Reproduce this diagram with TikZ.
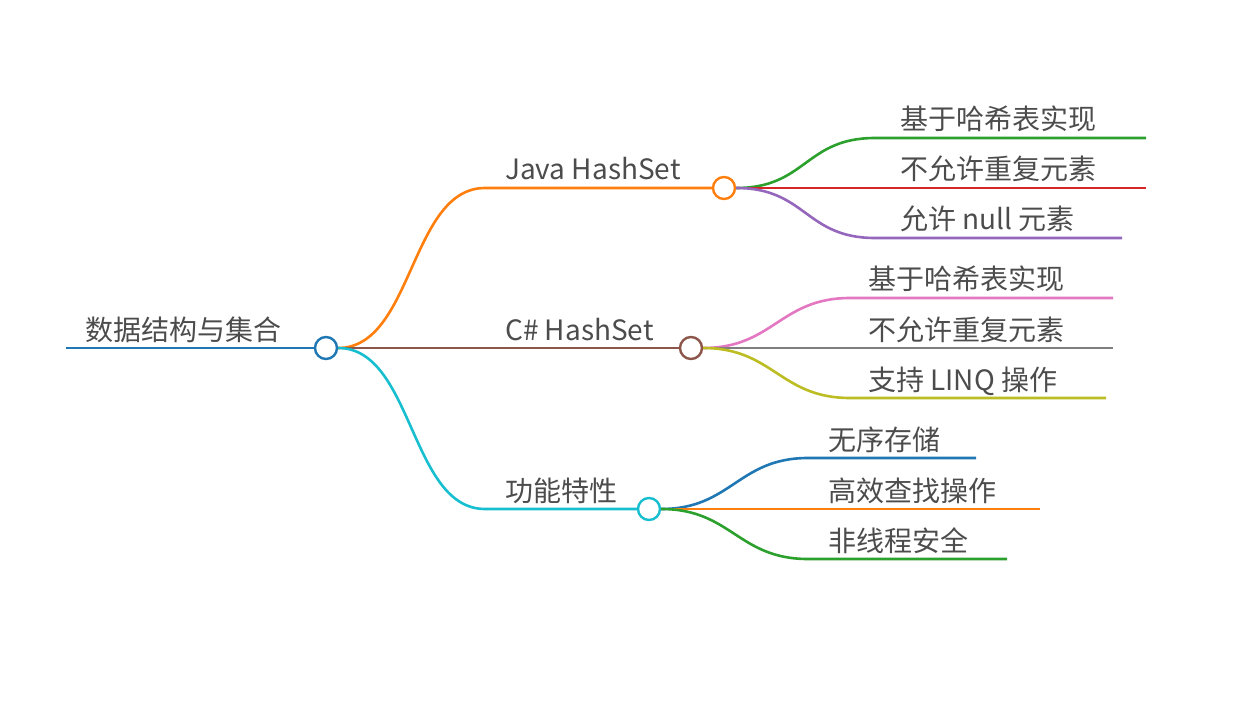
\documentclass[tikz,border=0pt]{standalone}
\usepackage{fontspec}
\setmainfont{Noto Sans CJK SC}
\begin{document}
\begin{tikzpicture}[x=1pt,y=-1pt,
  lbl/.style={anchor=base west,inner sep=0pt,text=black!70,font=\fontsize{28}{30}\selectfont},
  ln/.style={line width=2.6pt},
  dot/.style={circle,draw,fill=white,line width=2.4pt,minimum size=22pt,inner sep=0pt}]
\definecolor{cO}{HTML}{FF7F0E}\definecolor{cB}{HTML}{8C564B}\definecolor{cC}{HTML}{17BECF}
\definecolor{cG}{HTML}{2CA02C}\definecolor{cR}{HTML}{D62728}\definecolor{cP}{HTML}{9467BD}
\definecolor{cK}{HTML}{E377C2}\definecolor{cY}{HTML}{7F7F7F}\definecolor{cL}{HTML}{BCBD22}
\definecolor{cU}{HTML}{1F77B4}
\useasboundingbox (0,0) rectangle (1236,703);
% root
\coordinate (r0) at (66,348);
\node[dot,draw=cU] (r) at (326,348) {};
\draw[ln,cU] (r0) -- (r.west);
\node[lbl] (rt) at (85,340) {数据结构与集合};
% level 1
\coordinate (j0) at (485,188); \node[dot,draw=cO] (j) at (724,188) {};
\coordinate (c0) at (485,348); \node[dot,draw=cB] (c) at (691,348) {};
\coordinate (f0) at (485,509); \node[dot,draw=cC] (f) at (649,509) {};
\draw[ln,cO] (r.east) .. controls +(75,0) and +(-75,0) .. (j0) -- (j.west);
\draw[ln,cB] (r.east) -- (c.west);
\draw[ln,cC] (r.east) .. controls +(75,0) and +(-75,0) .. (f0) -- (f.west);
\node[lbl] (jt) at (505,180) {Java HashSet};
\node[lbl] (ct) at (505,340) {C\# HashSet};
\node[lbl] (ft) at (505,501) {功能特性};
% Java children
\coordinate (j1a) at (875,138); \coordinate (j1b) at (1146,138);
\coordinate (j2b) at (1146,188);
\coordinate (j3a) at (875,238); \coordinate (j3b) at (1122,238);
\draw[ln,cG] (j.east) .. controls +(70,0) and +(-70,0) .. (j1a) -- (j1b);
\draw[ln,cR] (j.east) -- (j2b);
\draw[ln,cP] (j.east) .. controls +(70,0) and +(-70,0) .. (j3a) -- (j3b);
\node[lbl] at (900,130) {基于哈希表实现};
\node[lbl] at (900,180) {不允许重复元素};
\node[lbl] at (900,230) {允许 null 元素};
% C# children
\coordinate (c1a) at (850,298); \coordinate (c1b) at (1113,298);
\coordinate (c2b) at (1113,348);
\coordinate (c3a) at (850,398); \coordinate (c3b) at (1106,398);
\draw[ln,cK] (c.east) .. controls +(70,0) and +(-70,0) .. (c1a) -- (c1b);
\draw[ln,cY] (c.east) -- (c2b);
\draw[ln,cL] (c.east) .. controls +(70,0) and +(-70,0) .. (c3a) -- (c3b);
\node[lbl] at (868,290) {基于哈希表实现};
\node[lbl] at (868,340) {不允许重复元素};
\node[lbl] at (868,390) {支持 LINQ 操作};
% feature children
\coordinate (f1a) at (808,458); \coordinate (f1b) at (976,458);
\coordinate (f2b) at (1040,509);
\coordinate (f3a) at (808,559); \coordinate (f3b) at (1007,559);
\draw[ln,cU] (f.east) .. controls +(70,0) and +(-70,0) .. (f1a) -- (f1b);
\draw[ln,cO] (f.east) -- (f2b);
\draw[ln,cG] (f.east) .. controls +(70,0) and +(-70,0) .. (f3a) -- (f3b);
\node[lbl] at (828,450) {无序存储};
\node[lbl] at (828,501) {高效查找操作};
\node[lbl] at (828,551) {非线程安全};
\end{tikzpicture}
\end{document}
